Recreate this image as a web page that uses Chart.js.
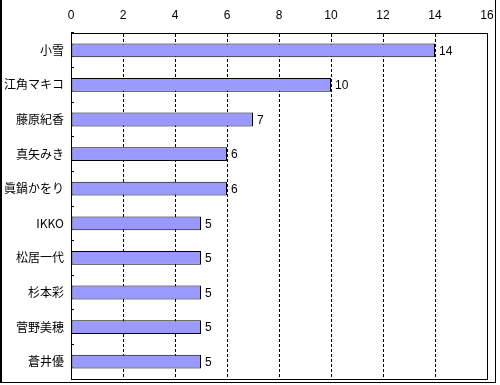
<!DOCTYPE html>
<html>
<head>
<meta charset="utf-8">
<script src="https://cdn.jsdelivr.net/npm/chart.js@4/dist/chart.umd.min.js"></script>
<style>
  html, body { margin: 0; padding: 0; background: #fff; }
  #wrap { position: relative; width: 500px; height: 385px; }
  #frame { position: absolute; left: 0; top: 0; width: 493px; height: 382px;
           border-left: 2px solid #000; border-right: 1px solid #000; border-bottom: 1px solid #000;
           pointer-events: none; }
  canvas { position: absolute; left: 0; top: 0; }
</style>
</head>
<body>
<div id="wrap">
  <canvas id="c" width="500" height="385"></canvas>
  <div id="frame"></div>
</div>
<script>
const categories = ['小雪', '江角マキコ', '藤原紀香', '真矢みき', '眞鍋かをり', 'IKKO', '松居一代', '杉本彩', '菅野美穂', '蒼井優'];
const values = [14, 10, 7, 6, 6, 5, 5, 5, 5, 5];
const xTicks = [0, 2, 4, 6, 8, 10, 12, 14, 16];

const numFont = { family: '"Liberation Sans", Arial, sans-serif', size: 12 };
const cjkFont = { family: '"Noto Sans CJK JP", "Noto Sans", sans-serif', size: 12 };

function noPad(s) { s.paddingLeft = 0; s.paddingRight = 0; s.paddingTop = 0; s.paddingBottom = 0; }

const frameAndLabels = {
  id: 'frameAndLabels',
  afterDatasetsDraw(chart) {
    const ctx = chart.ctx;
    const meta = chart.getDatasetMeta(0);
    ctx.save();
    ctx.fillStyle = '#000';
    ctx.font = numFont.size + 'px ' + numFont.family;
    ctx.textAlign = 'left';
    ctx.textBaseline = 'middle';
    meta.data.forEach((bar, i) => {
      ctx.fillText(String(chart.data.datasets[0].data[i]), bar.x + 4, bar.y + 1);
    });
    ctx.restore();
  },
  afterDraw(chart) {
    const a = chart.chartArea;
    const ctx = chart.ctx;
    ctx.save();
    ctx.strokeStyle = '#000';
    ctx.lineWidth = 1;
    ctx.setLineDash([]);
    ctx.strokeRect(Math.round(a.left) + 0.5, Math.round(a.top) + 0.5,
                   Math.round(a.right - a.left), Math.round(a.bottom - a.top));
    ctx.restore();
  }
};

new Chart(document.getElementById('c'), {
  type: 'bar',
  data: {
    labels: categories,
    datasets: [{
      data: values,
      backgroundColor: '#9999FF',
      borderColor: '#000000',
      borderWidth: 1,
      borderSkipped: false,
      categoryPercentage: 1.0,
      barPercentage: 0.4
    }]
  },
  options: {
    indexAxis: 'y',
    responsive: false,
    animation: false,
    devicePixelRatio: 1,
    layout: { padding: { left: 0, top: 0, right: 13, bottom: 6 } },
    plugins: { legend: { display: false }, tooltip: { enabled: false } },
    scales: {
      x: {
        position: 'top',
        min: 0, max: 16,
        afterFit(s) { s.height = 33; noPad(s); },
        afterBuildTicks(s) { s.ticks = xTicks.map(v => ({ value: v })); },
        ticks: { color: '#000', font: numFont, padding: 10, maxRotation: 0 },
        grid: { color: '#000', lineWidth: 1, drawTicks: false },
        border: { display: true, color: '#000', dash: [3, 2] }
      },
      y: {
        afterFit(s) { s.width = 71; noPad(s); },
        ticks: { color: '#000', font: cjkFont, padding: 10 },
        grid: { display: true, drawOnChartArea: false, drawTicks: true, tickLength: -3, color: '#000', offset: true },
        border: { display: true, color: '#000' }
      }
    }
  },
  plugins: [frameAndLabels]
});
</script>
</body>
</html>
